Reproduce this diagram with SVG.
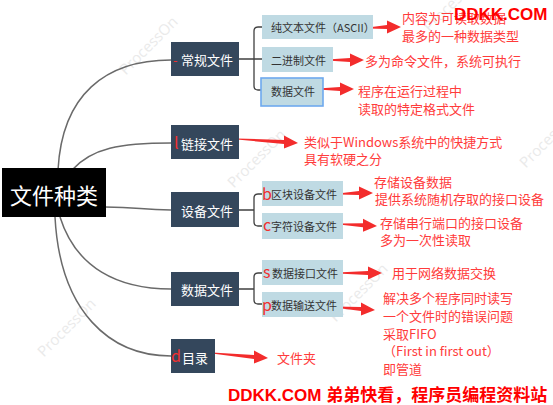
<svg xmlns="http://www.w3.org/2000/svg" width="553" height="405" viewBox="0 0 553 405">
<style>
.cjk{font-family:"Noto Sans CJK SC","Noto Sans",sans-serif}
.root{fill:#000}
.rootT{fill:#fff;font-size:22px}
.l1{fill:#34475c}
.l1T{fill:#fff;font-size:13px}
.l2{fill:#bfdae3}
.l2T{fill:#333;font-size:11px}
.mk{fill:#f03030;font-size:16px}
.mk1{fill:#f03030;font-size:13px}
.note{fill:#ff3b3b;font-size:13px}
.arr{fill:#f32c2c}
.curve{fill:none;stroke:#6a6a6a;stroke-width:1.5}
.br{fill:none;stroke:#404040;stroke-width:1.3}
.wm{fill:#d9d9d9;opacity:0.55;font-family:"Open Sans",sans-serif;font-size:15px}
.dd{fill:#ff0000;font-weight:bold;font-family:"Liberation Sans","Noto Sans CJK SC",sans-serif;font-size:17px}
</style>

<g id="watermarks">
<text class="wm" transform="translate(148,45) rotate(-45)" text-anchor="middle" dominant-baseline="central">ProcessOn</text>
<text class="wm" transform="translate(256,158) rotate(-45)" text-anchor="middle" dominant-baseline="central">ProcessOn</text>
<text class="wm" transform="translate(66,327) rotate(-45)" text-anchor="middle" dominant-baseline="central">ProcessOn</text>
<text class="wm" transform="translate(548,138) rotate(-45)" text-anchor="middle" dominant-baseline="central">ProcessOn</text>
<text class="wm" transform="translate(358,292) rotate(-45)" text-anchor="middle" dominant-baseline="central">ProcessOn</text>
<text class="wm" transform="translate(452,2) rotate(-45)" text-anchor="middle" dominant-baseline="central">ProcessOn</text>
</g>

<g id="connectors">
<path class="curve" d="M58 170 C62 95 105 60 171 60"/>
<path class="curve" d="M72 170 C92 148 120 143 171 143"/>
<path class="curve" d="M105 207 C140 207 140 210 171 210"/>
<path class="curve" d="M60 217 C76 268 118 289 171 289"/>
<path class="curve" d="M55 217 C60 312 110 356 171 356"/>
<path class="br" d="M239 59 H262 M262 27 H258 Q254 27 254 31 V86 Q254 90 258 90 H261"/>
<path class="br" d="M239 210 H254 M262 194 H258 Q254 194 254 198 V222 Q254 226 258 226 H262"/>
<path class="br" d="M239 289 H254 M262 273 H258 Q254 273 254 277 V300 Q254 304 258 304 H262"/>
<polygon class="arr" points="368,27.5 387,25 387,20.5 401,27 387,33.5 387,29 368,28.5"/>
<polygon class="arr" points="327,59.5 350,58 350,53.5 364,60 350,66.5 350,62 327,60.5"/>
<polygon class="arr" points="318,88.5 340,87 340,82.5 354,89 340,95.5 340,91 318,89.5"/>
<polygon class="arr" points="237,138.5 284,140 284,135.5 298,143 284,148.5 284,144 237,139.5"/>
<polygon class="arr" points="338,193.5 359,191 359,186.5 373,193 359,199.5 359,195 338,194.5"/>
<polygon class="arr" points="339,223.5 363,223.3 363,218.8 377,226 363,231.8 363,227.3 339,224.5"/>
<polygon class="arr" points="337,272.5 368,271 368,266.5 382,273 368,279.5 368,275 337,273.5"/>
<polygon class="arr" points="334,306.5 361,307 361,302.5 375,310 361,315.5 361,311 334,307.5"/>
<polygon class="arr" points="212,352.5 254,355 254,350.5 268,358 254,363.5 254,359 212,353.5"/>
</g>

<g id="root">
<rect class="root" x="2" y="168" width="104" height="49"/>
<text class="cjk rootT" x="54" y="194" text-anchor="middle" dominant-baseline="central">文件种类</text>
</g>

<g id="regular">
<rect class="l1" x="171" y="42" width="68" height="34"/>
<text class="cjk mk1" x="173" y="59" dominant-baseline="central">-</text>
<text class="cjk l1T" x="181" y="59" dominant-baseline="central">常规文件</text>
</g>
<g id="link">
<rect class="l1" x="171" y="125" width="68" height="34"/>
<text class="cjk mk" x="174" y="142" dominant-baseline="central">l</text>
<text class="cjk l1T" x="181" y="143" dominant-baseline="central">链接文件</text>
</g>
<g id="device">
<rect class="l1" x="171" y="192" width="68" height="35"/>
<text class="cjk l1T" x="181" y="210" dominant-baseline="central">设备文件</text>
</g>
<g id="data">
<rect class="l1" x="171" y="272" width="68" height="34"/>
<text class="cjk l1T" x="181" y="289" dominant-baseline="central">数据文件</text>
</g>
<g id="dir">
<rect class="l1" x="171" y="339" width="44" height="34"/>
<text class="cjk mk" x="171" y="355" dominant-baseline="central">d</text>
<text class="cjk l1T" x="182" y="357" dominant-baseline="central">目录</text>
</g>

<g id="ascii">
<rect class="l2" x="262" y="15" width="111" height="24"/>
<text class="cjk l2T" x="271" y="27" dominant-baseline="central">纯文本文件（ASCII）</text>
</g>
<g id="binary">
<rect class="l2" x="262" y="47" width="71" height="25"/>
<text class="cjk l2T" x="271" y="60" dominant-baseline="central">二进制文件</text>
</g>
<g id="datafile">
<rect class="l2" x="261" y="78" width="62" height="28" stroke="#6ea9ee" stroke-width="1.6"/>
<text class="cjk l2T" x="271" y="91" dominant-baseline="central">数据文件</text>
</g>
<g id="block">
<rect class="l2" x="262" y="181" width="81" height="25"/>
<text class="cjk mk" x="262" y="193" dominant-baseline="central">b</text>
<text class="cjk l2T" x="271" y="194" dominant-baseline="central">区块设备文件</text>
</g>
<g id="char">
<rect class="l2" x="262" y="213" width="81" height="26"/>
<text class="cjk mk" x="263" y="224" dominant-baseline="central">c</text>
<text class="cjk l2T" x="271" y="226" dominant-baseline="central">字符设备文件</text>
</g>
<g id="socket">
<rect class="l2" x="262" y="260" width="81" height="25"/>
<text class="cjk mk" x="263" y="271" dominant-baseline="central">s</text>
<text class="cjk l2T" x="272" y="273" dominant-baseline="central">数据接口文件</text>
</g>
<g id="pipe">
<rect class="l2" x="262" y="292" width="81" height="25"/>
<text class="cjk mk" x="262" y="304" dominant-baseline="central">p</text>
<text class="cjk l2T" x="271" y="305" dominant-baseline="central">数据输送文件</text>
</g>

<g id="notes">
<text class="cjk note" x="402" y="17" dominant-baseline="central">内容为可读取数据</text>
<text class="cjk note" x="402" y="35" dominant-baseline="central">最多的一种数据类型</text>
<text class="cjk note" x="365" y="60" dominant-baseline="central">多为命令文件，系统可执行</text>
<text class="cjk note" x="358" y="90" dominant-baseline="central">程序在运行过程中</text>
<text class="cjk note" x="358" y="108" dominant-baseline="central">读取的特定格式文件</text>
<text class="cjk note" x="304" y="141" dominant-baseline="central">类似于Windows系统中的快捷方式</text>
<text class="cjk note" x="304" y="158" dominant-baseline="central">具有软硬之分</text>
<text class="cjk note" x="374" y="181" dominant-baseline="central">存储设备数据</text>
<text class="cjk note" x="375" y="198" dominant-baseline="central">提供系统随机存取的接口设备</text>
<text class="cjk note" x="380" y="222" dominant-baseline="central">存储串行端口的接口设备</text>
<text class="cjk note" x="380" y="239" dominant-baseline="central">多为一次性读取</text>
<text class="cjk note" x="392" y="272" dominant-baseline="central">用于网络数据交换</text>
<text class="cjk note" x="383" y="297" dominant-baseline="central">解决多个程序同时读写</text>
<text class="cjk note" x="383" y="315" dominant-baseline="central">一个文件时的错误问题</text>
<text class="cjk note" x="383" y="333" dominant-baseline="central">采取FIFO</text>
<text class="cjk note" x="383" y="350" dominant-baseline="central">（First in first out）</text>
<text class="cjk note" x="383" y="368" dominant-baseline="central">即管道</text>
<text class="cjk note" x="277" y="357" dominant-baseline="central">文件夹</text>
</g>

<g id="site">
<text class="dd" x="454" y="20">DDKK.COM</text>
<text class="dd" x="228" y="401">DDKK.COM 弟弟快看，程序员编程资料站</text>
</g>
</svg>
